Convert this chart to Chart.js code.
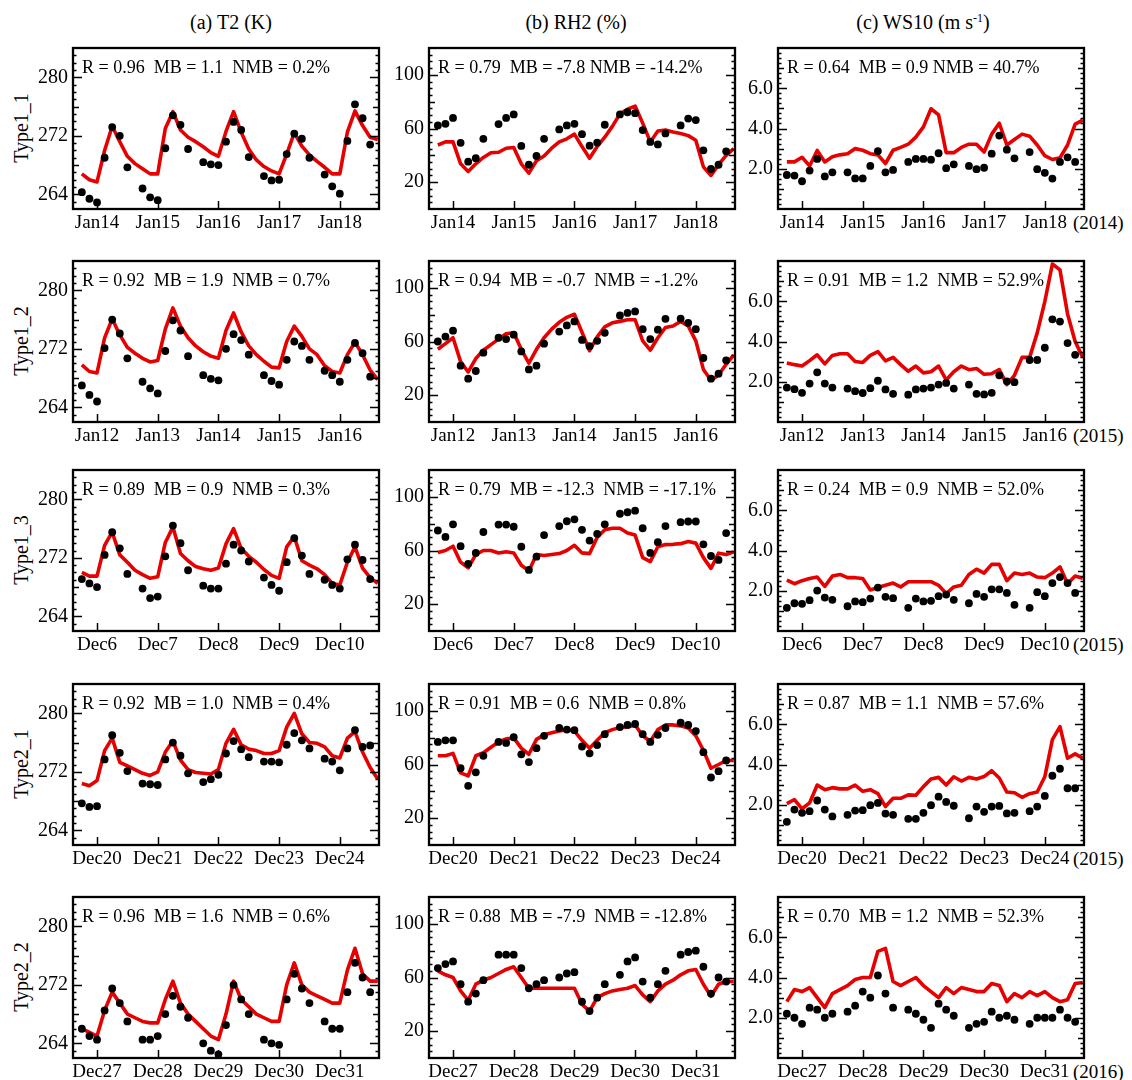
<!DOCTYPE html>
<html>
<head>
<meta charset="utf-8">
<title>T2 / RH2 / WS10 time series</title>
<script src="https://cdn.jsdelivr.net/npm/chart.js@4"></script>
<style>
  body { margin: 0; background: #fff; }
  #page { position: relative; width: 1132px; height: 1080px; overflow: hidden; font-family: "Liberation Serif", "Times New Roman", serif; color: #000; }
  canvas { position: absolute; }
  .txt { position: absolute; white-space: nowrap; font-size: 20px; line-height: 20px; }
  .col-title { transform: translateX(-50%); }
  .row-label { transform: translate(-50%, -50%) rotate(-90deg); }
  .year { font-size: 19px; line-height: 22px; }
  sup { font-size: 12px; vertical-align: 7px; line-height: 0; }
</style>
</head>
<body>
<div id="page"></div>
<script>
// hours relative to the first labelled day (3-hourly samples)
const hours = [-6, -3, 0, 3, 6, 9, 12, 15, 18, 21, 24, 27, 30, 33, 36, 39, 42, 45, 48, 51,
               54, 57, 60, 63, 66, 69, 72, 75, 78, 81, 84, 87, 90, 93, 96, 99, 102, 105, 108, 111];
const dayTicks = [0, 24, 48, 72, 96];

const daysRow1 = ['Jan14', 'Jan15', 'Jan16', 'Jan17', 'Jan18'];
const daysRow2 = ['Jan12', 'Jan13', 'Jan14', 'Jan15', 'Jan16'];
const daysRow3 = ['Dec6', 'Dec7', 'Dec8', 'Dec9', 'Dec10'];
const daysRow4 = ['Dec20', 'Dec21', 'Dec22', 'Dec23', 'Dec24'];
const daysRow5 = ['Dec27', 'Dec28', 'Dec29', 'Dec30', 'Dec31'];

const rowNames = ['Type1_1', 'Type1_2', 'Type1_3', 'Type2_1', 'Type2_2'];
const rowYears = ['(2014)', '(2015)', '(2015)', '(2015)', '(2016)'];

const statsRow1 = ['R = 0.96  MB = 1.1  NMB = 0.2%', 'R = 0.79  MB = -7.8 NMB = -14.2%', 'R = 0.64  MB = 0.9 NMB = 40.7%'];
const statsRow2 = ['R = 0.92  MB = 1.9  NMB = 0.7%', 'R = 0.94  MB = -0.7  NMB = -1.2%', 'R = 0.91  MB = 1.2  NMB = 52.9%'];
const statsRow3 = ['R = 0.89  MB = 0.9  NMB = 0.3%', 'R = 0.79  MB = -12.3  NMB = -17.1%', 'R = 0.24  MB = 0.9  NMB = 52.0%'];
const statsRow4 = ['R = 0.92  MB = 1.0  NMB = 0.4%', 'R = 0.91  MB = 0.6  NMB = 0.8%', 'R = 0.87  MB = 1.1  NMB = 57.6%'];
const statsRow5 = ['R = 0.96  MB = 1.6  NMB = 0.6%', 'R = 0.88  MB = -7.9  NMB = -12.8%', 'R = 0.70  MB = 1.2  NMB = 52.3%'];

// Type1_1
const t2Mod1 = [266.8,266,265.7,270,273.3,271.2,269.2,268.2,267.5,266.8,266.8,273,275.3,272.8,271.8,271.2,270.5,269.7,269.2,272.6,275.3,272.5,270.2,268.7,267.8,267.2,266.8,269.5,272.4,270.6,269.4,268.5,267.7,266.8,266.8,272.5,275.4,273.4,271.8,271.5];
const t2Obs1 = [264.3,263.4,262.9,269,273.2,272,267.7,null,264.8,263.6,263.2,270.3,274.8,273.5,270.2,null,268.4,268.1,268,271.2,273.9,272.8,269.1,null,266.5,265.9,266,269.5,272.3,271.6,269,null,266.7,265.1,264.1,271.3,276.3,274.4,270.8,null];
const rhMod1 = [47.7,50,50,33.7,27.9,33.7,38.4,41.9,42.3,45.3,45.8,33.7,26.7,36,39.5,45.3,50,52.3,55.8,46.5,37.9,46.5,53.5,61.6,70.9,74.4,76.7,64,50,58.1,58.8,57.4,56.3,54.7,51.2,31.4,25,33,40,45];
const rhObs1 = [62.3,63.5,67.9,49.3,35.3,37.9,52.3,null,63.3,67.9,70.5,47,33,39.5,52.3,null,59.3,62.3,63.5,55.8,47.2,49.5,62.8,null,70.5,72.1,71.4,58.8,50,48.1,56.3,null,62.3,67.4,66.3,43.7,29.8,33,43,null];
const wsMod1 = [2.34,2.34,2.57,2.14,2.91,2.34,2.6,2.69,2.75,3.0,2.92,2.75,2.69,2.26,2.92,3.06,3.22,3.57,4.08,4.98,4.68,2.8,2.8,3.06,3.22,3.22,2.83,3.72,4.26,3.18,3.45,3.72,3.62,3.18,2.65,2.46,2.54,3.18,4.22,4.42];
const wsObs1 = [1.69,1.66,1.38,1.91,2.49,1.62,1.82,null,1.82,1.52,1.52,2.14,2.88,1.82,1.94,null,2.34,2.49,2.49,2.45,2.77,2.03,2.22,null,2.14,1.98,2.05,2.75,3.65,2.95,2.52,null,2.83,1.98,1.8,1.51,2.34,2.57,2.34,null];

// Type1_2
const t2Mod2 = [269.8,268.9,268.7,273.5,276.1,273.9,272.2,271.4,270.7,270.2,270.4,274.7,277.6,275.1,273.5,272.4,271.6,271,270.7,274.5,276.9,274.3,272.4,271.2,270.3,269.5,269.4,273,275.1,273.7,272,271.2,269.7,268.9,268.7,271.2,272.9,271.2,269.1,267.8];
const t2Obs2 = [267,265.7,264.8,272.1,276,274.1,270.7,null,267.5,266.6,265.9,271.7,275.9,274.5,271,null,268.4,267.9,267.7,272,274,273.2,271.2,null,268.4,267.6,267.1,270.5,273,272.4,270.5,null,269,268.4,267.5,270.5,272.8,271.4,268.2,null];
const rhMod2 = [54.2,58.4,62.8,45,37.3,47.3,53.5,57.7,61.8,65.8,66.5,54.2,43.8,54.2,62.8,69.2,74.3,78,80.3,66.9,53.1,63.5,70.9,73.9,75,76.2,76.2,60.5,53.5,62.8,70.4,71.6,75,71.6,60.5,39.2,31.1,35,43,50];
const rhObs2 = [60,63.7,68.1,42,32.3,38,51.7,null,62.8,61.8,65.1,52.6,39.2,42,58.4,null,67.4,72,75,61.2,56.5,60.5,66.5,null,79.4,81.3,82.4,69.2,61.8,68.8,76.9,null,77.1,73.9,69.2,47.7,32.3,36,46,null];
const wsMod2 = [2.93,2.85,2.78,3.05,3.34,2.89,3.31,3.39,3.39,3.01,2.96,3.31,3.5,3.04,3.21,2.85,2.52,2.78,2.44,2.5,2.78,2.09,2.5,2.78,2.6,2.66,2.37,2.4,2.6,1.86,2.32,3.21,3.21,4.43,5.98,7.85,7.56,5.37,4.0,3.21];
const wsObs2 = [1.71,1.63,1.45,1.91,2.47,1.91,1.71,null,1.66,1.53,1.44,1.68,2.05,1.62,1.4,null,1.36,1.62,1.66,1.71,1.86,1.94,1.66,null,1.86,1.4,1.37,1.45,2.32,2.02,1.98,null,3.08,3.08,3.69,5.1,4.99,3.92,3.34,null];

// Type1_3
const t2Mod3 = [270,269.5,269.5,273.7,275.5,272.4,271.4,270.3,269.7,269.2,269.4,274.1,276.2,272.6,271.6,270.8,270.5,270.3,270.6,273.9,276,273.3,272.2,271.4,270.4,269.6,269.2,273.5,274.9,271.6,271,270.5,269.7,268.5,268.3,271.4,273.5,270.6,269.3,268.5];
const t2Obs3 = [269.1,268.5,268,272.4,275.5,273.3,269.8,null,267.8,266.5,266.7,272.2,276.4,274,270.3,null,268.2,267.8,267.8,271.2,273.8,273,271.5,null,269.3,268.3,267.5,271.4,274.7,272.3,269.8,null,269,268.3,267.8,271.8,273.8,271.7,269.1,null];
const rhMod3 = [58.6,60,63.2,51.3,47.1,57,60,60,58.2,59.1,58.2,49,44.8,57,56.3,57,57.7,60,63.9,58.2,57.7,69.7,75.4,76.6,76.6,73.1,71.5,54.7,51.7,62.8,64.4,64.6,65.1,66.7,65.5,54.7,46.7,58,57,59];
const rhObs3 = [74.9,70.1,79.5,63.2,50.1,58.2,73.8,null,79.3,79.3,77.7,62.8,45.5,55.4,71.5,null,78.2,81.8,83.2,75.4,67.4,72.4,79.5,null,87.4,88.5,89.7,76.6,58.2,66.2,78.2,null,81.1,81.6,81.6,64.6,55.9,53,73,null];
const wsMod3 = [2.53,2.35,2.5,2.61,2.68,2.22,2.73,2.81,2.65,2.65,2.61,2.04,2.16,2.27,2.38,2.19,2.45,2.45,2.45,2.45,2.27,1.86,2.19,2.27,2.81,3.07,2.88,3.31,3.31,2.5,2.88,2.81,2.88,2.68,2.65,2.88,3.19,2.35,2.73,2.62];
const wsObs3 = [1.15,1.38,1.35,1.53,2.01,1.66,1.55,null,1.23,1.47,1.43,1.61,2.16,1.7,1.63,null,1.15,1.61,1.47,1.5,1.73,1.81,1.55,null,1.38,1.84,1.7,2.07,2.07,1.89,1.3,null,1.15,1.93,1.73,2.38,2.68,2.38,1.89,null];

// Type2_1
const t2Mod4 = [270.4,270.1,270.8,274.9,276.6,273.3,272.8,272.3,271.8,271.5,272,274.7,276.2,273.6,272.3,271.9,271.8,271.7,272.3,275.9,277.8,275.7,275.1,274.9,274.5,274.5,274.9,278.1,280,277.2,276,275.9,275.4,274.2,273.9,276.6,277.5,274.7,272.6,271];
const t2Obs4 = [267.7,267.2,267.3,273.7,277,274.6,272.1,null,270.4,270.3,270.2,273.7,276,274.2,271.8,null,270.6,271,271.6,274.5,276.2,275.1,274,null,273.4,273.4,273.3,275.7,277.3,276.3,275.2,null,273.8,273.4,272.2,275.2,277.7,275.4,275.6,null];
const rhMod4 = [66.5,66.5,68.3,53.8,51.5,66.5,68.8,72.9,76.8,79.1,79.8,72.2,67.6,78.7,82.1,83.7,84.9,86,84.9,78,72.2,78,83.7,86,87.6,87.9,89.5,81.4,77.3,86,89.5,89.5,88.8,87.2,81.4,70.6,57.2,60,63,63];
const rhObs4 = [76.8,78,78,57.2,44.1,54.2,66.5,null,76.8,76.1,80.3,67.6,61.8,72.2,81.4,null,87.2,86,85.6,73.4,68.3,74.5,82.6,null,87.9,89.5,90.2,82.6,76.8,82.1,87.2,null,91.1,89.5,84.9,69.2,50.3,55,63,null];
const wsMod4 = [2.06,2.26,1.8,2.09,2.98,2.75,2.85,2.79,2.79,2.98,2.67,2.75,2.55,1.91,2.32,2.32,2.49,2.47,2.9,3.28,3.36,2.98,3.39,3.18,3.36,3.28,3.4,3.69,3.33,2.63,2.6,2.37,2.55,2.63,3.39,5.24,5.88,4.31,4.53,4.31];
const wsObs4 = [1.15,1.76,1.6,1.68,2.21,1.76,1.42,null,1.5,1.71,1.73,1.98,2.09,1.56,1.5,null,1.3,1.3,1.6,1.98,2.4,2.14,1.95,null,1.33,1.91,1.65,1.91,1.94,1.57,1.6,null,1.68,1.91,2.44,3.44,3.79,2.82,2.82,null];

// Type2_2
const t2Mod5 = [266,265.5,265,268.5,271,269.5,268,267.5,267,266.8,266.8,270,272.5,269.5,268,267,266,265,264.5,268,272.5,270,269,268,267.5,267,267,272,275,272,271,270.5,270,269.5,269.5,274,277,273.5,272.5,272.5];
const t2Obs5 = [266,265,264.5,268.5,271.5,269.5,267,null,264.5,264.5,265,268,270.5,269,267.5,null,264,263,262.5,266.5,272,270,268,null,264.5,264,263.8,270,273.5,271.5,269.5,null,267,266,266,271,275,273,271,null];
const rhMod5 = [65,62,60,50,43,55,58,60,63,66,68,60,52,52,52,52,52,52,52,40,35,45,48,50,51,52,54,47,42,50,55,58,62,65,66,55,46,55,57,57];
const rhObs5 = [67,70,72,55,42,48,58,null,77,77,77,67,52,55,58,null,60,63,64,42,35,45,55,null,62,72,75,57,45,55,65,null,77,79,80,68,48,60,57,null];
const wsMod5 = [2.8,3.4,3.3,3.5,3.0,2.5,3.2,3.4,3.6,3.9,4.0,4.0,5.3,5.45,3.8,3.6,3.8,4.0,3.6,3.3,3.0,3.5,3.2,3.5,3.4,3.3,3.3,3.7,3.6,2.8,3.2,3.0,3.3,3.1,3.3,3.0,2.8,2.9,3.7,3.75];
const wsObs5 = [2.2,2.0,1.7,2.5,2.4,2.0,2.2,null,2.3,2.6,3.3,3.0,4.1,3.2,2.5,null,2.4,2.2,1.9,1.5,2.7,2.4,2.1,null,1.5,1.7,1.8,2.3,2.0,2.1,1.9,null,1.7,2.0,2.0,2.0,2.4,2.0,1.8,null];

const rows = [
  { days: daysRow1, stats: statsRow1, series: [[t2Mod1, t2Obs1], [rhMod1, rhObs1], [wsMod1, wsObs1]] },
  { days: daysRow2, stats: statsRow2, series: [[t2Mod2, t2Obs2], [rhMod2, rhObs2], [wsMod2, wsObs2]] },
  { days: daysRow3, stats: statsRow3, series: [[t2Mod3, t2Obs3], [rhMod3, rhObs3], [wsMod3, wsObs3]] },
  { days: daysRow4, stats: statsRow4, series: [[t2Mod4, t2Obs4], [rhMod4, rhObs4], [wsMod4, wsObs4]] },
  { days: daysRow5, stats: statsRow5, series: [[t2Mod5, t2Obs5], [rhMod5, rhObs5], [wsMod5, wsObs5]] }
];

// axis setup per column: range, labelled ticks, medium and minor tick spacing
const axes = [
  { min: 262, max: 284, labels: [264, 272, 280], mid: 4, minor: 1, fmt: v => String(v) },
  { min: 0, max: 120, labels: [20, 60, 100], mid: 20, minor: 5, fmt: v => String(v) },
  { min: 0, max: 8, labels: [2, 4, 6], mid: 1, minor: 0.25, fmt: v => v.toFixed(1) }
];

const colTitles = ['(a) T2 (K)', '(b) RH2 (%)', '(c) WS10 (m s<sup>-1</sup>)'];
const titleCenters = [231, 576, 923];

const colLeft = [73, 429, 778];
const rowTop = [35, 248, 457, 671, 884];
const frameW = 306, frameH = 174;
const padL = 48, padT = 4, padR = 4, padB = 34;

const FONT = '"Liberation Serif", "Times New Roman", serif';
const RED = 'rgb(230,0,0)';

const page = document.getElementById('page');

function addText(html, cls, style) {
  const d = document.createElement('div');
  d.className = 'txt ' + cls;
  d.innerHTML = html;
  Object.assign(d.style, style);
  page.appendChild(d);
}

// frame, inward ticks on all sides and the stats line
const framePlugin = {
  id: 'frame',
  beforeDatasetsDraw(chart, args, opts) {
    const { ctx, chartArea: a } = chart;
    ctx.save();
    ctx.font = '18px ' + FONT;
    ctx.fillStyle = '#000';
    ctx.textBaseline = 'alphabetic';
    ctx.fillText(opts.text, a.left + 9, a.top + 25);
    ctx.restore();
  },
  afterDraw(chart, args, opts) {
    const { ctx, chartArea: a } = chart;
    const x = chart.scales.x, y = chart.scales.y;
    const ax = opts.axis;
    ctx.save();
    ctx.strokeStyle = '#000';
    ctx.lineWidth = 1.5;
    ctx.beginPath();
    const n = Math.round((ax.max - ax.min) / ax.minor);
    for (let k = 1; k < n; k++) {
      const v = +(ax.min + k * ax.minor).toFixed(4);
      let len = 3.5;
      if (ax.labels.includes(v)) len = 9;
      else if (Math.abs(v / ax.mid - Math.round(v / ax.mid)) < 1e-6) len = 6;
      const py = Math.round(y.getPixelForValue(v)) + 0.5;
      ctx.moveTo(a.left, py); ctx.lineTo(a.left + len, py);
      ctx.moveTo(a.right, py); ctx.lineTo(a.right - len, py);
    }
    dayTicks.forEach(d => {
      const px = Math.round(x.getPixelForValue(d)) + 0.5;
      ctx.moveTo(px, a.bottom); ctx.lineTo(px, a.bottom - 8);
    });
    ctx.stroke();
    ctx.lineWidth = 2.3;
    ctx.strokeRect(a.left, a.top, a.right - a.left, a.bottom - a.top);
    ctx.restore();
  }
};

function toXY(arr) {
  return hours.map((h, i) => ({ x: h, y: arr[i] }));
}

function makePanel(r, c) {
  const row = rows[r];
  const ax = axes[c];
  const [model, obs] = row.series[c];

  const canvas = document.createElement('canvas');
  canvas.width = padL + frameW + padR;
  canvas.height = padT + frameH + padB;
  canvas.style.left = (colLeft[c] - padL) + 'px';
  canvas.style.top = (rowTop[r] - padT) + 'px';
  page.appendChild(canvas);

  new Chart(canvas, {
    type: 'line',
    data: {
      datasets: [
        { data: toXY(obs), showLine: false, pointRadius: 3.9, pointHoverRadius: 3.9,
          pointBackgroundColor: '#000', pointBorderWidth: 0, order: 0 },
        { data: toXY(model), borderColor: RED, borderWidth: 3.6, pointRadius: 0,
          tension: 0, borderJoinStyle: 'round', spanGaps: true, order: 1 }
      ]
    },
    options: {
      responsive: false,
      animation: false,
      events: [],
      layout: { padding: { top: padT, right: padR, left: 0, bottom: 0 } },
      plugins: {
        legend: { display: false },
        tooltip: { enabled: false },
        frame: { text: row.stats[c], axis: ax }
      },
      scales: {
        x: {
          type: 'linear', min: -9.5, max: 111.5,
          afterBuildTicks: s => { s.ticks = dayTicks.map(v => ({ value: v })); },
          afterFit: s => { s.height = padB; },
          grid: { display: false, drawTicks: false },
          border: { display: false },
          ticks: {
            autoSkip: false, maxRotation: 0, padding: 3, color: '#000',
            font: { family: FONT, size: 19 },
            callback: (v, i) => row.days[i]
          }
        },
        y: {
          type: 'linear', min: ax.min, max: ax.max,
          afterBuildTicks: s => { s.ticks = ax.labels.map(v => ({ value: v })); },
          afterFit: s => { s.width = padL; },
          grid: { display: false, drawTicks: false },
          border: { display: false },
          ticks: {
            padding: 5, color: '#000',
            font: { family: FONT, size: 20 },
            callback: v => ax.fmt(v)
          }
        }
      }
    },
    plugins: [framePlugin]
  });
}

colTitles.forEach((t, c) => addText(t, 'col-title', { left: titleCenters[c] + 'px', top: '12px' }));

rows.forEach((row, r) => {
  addText(rowNames[r], 'row-label', { left: '21px', top: (rowTop[r] + frameH / 2 + 6) + 'px' });
  addText(rowYears[r], 'year', { left: '1073px', top: (rowTop[r] + frameH + 3) + 'px' });
  for (let c = 0; c < 3; c++) makePanel(r, c);
});
</script>
</body>
</html>
